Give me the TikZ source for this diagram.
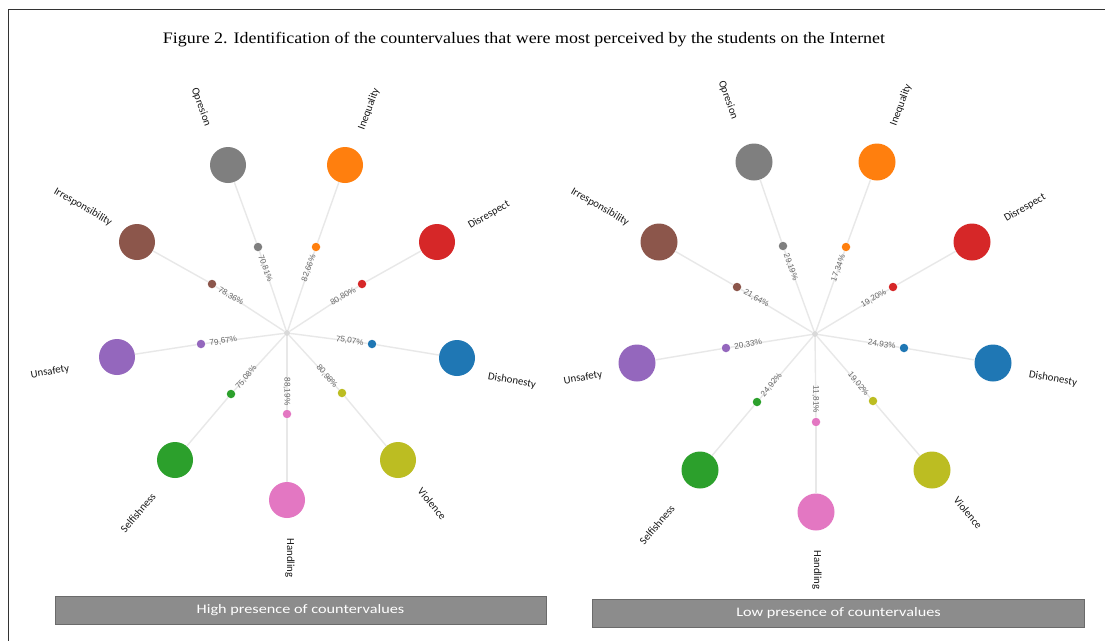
\documentclass[tikz,border=0pt]{standalone}
\usepackage{fontspec}
\setmainfont{Liberation Serif}
\newfontfamily\lblfont{Carlito}
\newfontfamily\pctfont{Liberation Sans}
\usetikzlibrary{calc}
\definecolor{cOp}{HTML}{7F7F7F}
\definecolor{cIn}{HTML}{FF7F0E}
\definecolor{cDr}{HTML}{D62728}
\definecolor{cDh}{HTML}{1F77B4}
\definecolor{cVi}{HTML}{BCBD22}
\definecolor{cHa}{HTML}{E377C2}
\definecolor{cSe}{HTML}{2CA02C}
\definecolor{cUn}{HTML}{9467BD}
\definecolor{cIr}{HTML}{8C564B}
\tikzset{
  link/.style={draw=black!9, line width=1.4pt},
  bigdot/.style={circle, minimum size=36pt, inner sep=0pt, fill=#1},
  smalldot/.style={circle, minimum size=8.5pt, inner sep=0pt, fill=#1},
  rootdot/.style={circle, minimum size=6pt, inner sep=0pt, fill=black!15},
  lbl/.style={font=\lblfont\fontsize{10.8}{12}\selectfont, text=black!90, inner sep=0pt},
  pct/.style={font=\pctfont\fontsize{8.2}{9}\selectfont, text=black!60, inner sep=0pt},
  bar/.style={fill=black!45, draw=black!58, line width=0.9pt, text=white, inner sep=0pt,
    font=\lblfont\fontsize{13}{15}\selectfont},
  frame/.style={draw=black!80, line width=0.8pt}
}
\begin{document}
\begin{tikzpicture}[x=1pt,y=-1pt]
\useasboundingbox (0,0) rectangle (1105,640);
\fill[white] (0,0) rectangle (1105,640);
\draw[frame] (8,650) -- (8,9) -- (1110,9);

\node[inner sep=0pt] (title) at (524,40)
  {\scalebox{1.12}[1]{\fontsize{16}{19}\selectfont Figure 2. Identification of the countervalues that were most perceived by the students on the Internet}};

% ---------- left chart ----------
\node[rootdot] (L-root) at (287,333) {};
\foreach \n/\t/\ox/\oy/\ix/\iy/\lx/\ly/\r/\p in {
  Op/Opresion/228/165/258/247/201/107/-70/{70,81\%},
  In/Inequality/345/165/316/247/369/109/70/{82,66\%},
  Dr/Disrespect/437/242/362/284/489/215/30/{80,80\%},
  Dh/Dishonesty/457/358/372/344/512/381/-10/{75,07\%},
  Vi/Violence/398/460/342/393/432/504/-50/{80,98\%},
  Ha/Handling/287/500/287/414/290/558/-90/{88,19\%},
  Se/Selfishness/175/460/231/394/138/513/50/{75,08\%},
  Un/Unsafety/117/357/201/344/50/372/10/{79,67\%},
  Ir/Irresponsibility/137/242/212/284/83/207/-30/{78,36\%}}{
  \node[bigdot=c\n] (L-\n-out) at (\ox,\oy) {};
  \node[smalldot=c\n] (L-\n-in) at (\ix,\iy) {};
  \draw[link] (L-root) -- (L-\n-in);
  \draw[link] (L-\n-in) -- (L-\n-out);
  \node[lbl, rotate=\r] (L-\n-lbl) at (\lx,\ly) {\t};
  \node[pct, rotate=\r] (L-\n-pct) at ($(L-\n-in)!22.5pt!(L-root)$) {\p};
}

% ---------- right chart ----------
\node[rootdot] (R-root) at (815,334) {};
\foreach \n/\t/\ox/\oy/\ix/\iy/\lx/\ly/\r/\p in {
  Op/Opresion/754/162/783/246/728/100/-70/{29,19\%},
  In/Inequality/877/162/846/247/901/105/70/{17,34\%},
  Dr/Disrespect/972/242/893/287/1025/208/30/{19,20\%},
  Dh/Dishonesty/993/363/904/348/1053/379/-10/{24,93\%},
  Vi/Violence/932/470/873/401/968/513/-50/{19,02\%},
  Ha/Handling/816/512/816/422/817/570/-90/{11,81\%},
  Se/Selfishness/700/470/757/402/657/525/50/{24,92\%},
  Un/Unsafety/637/363/726/348/583/378/10/{20,33\%},
  Ir/Irresponsibility/659/242/737/287/600/207/-30/{21,64\%}}{
  \node[bigdot=c\n, minimum size=37pt] (R-\n-out) at (\ox,\oy) {};
  \node[smalldot=c\n] (R-\n-in) at (\ix,\iy) {};
  \draw[link] (R-root) -- (R-\n-in);
  \draw[link] (R-\n-in) -- (R-\n-out);
  \node[lbl, rotate=\r] (R-\n-lbl) at (\lx,\ly) {\t};
  \node[pct, rotate=\r] (R-\n-pct) at ($(R-\n-in)!22.5pt!(R-root)$) {\p};
}

% ---------- bars ----------
\node[bar, minimum width=491pt, minimum height=28pt] (L-bar) at (300.5,610.5) {\scalebox{1.25}[1]{High presence of countervalues}};
\node[bar, minimum width=492pt, minimum height=28pt] (R-bar) at (838.5,613.5) {\scalebox{1.25}[1]{Low presence of countervalues}};
\end{tikzpicture}
\end{document}
